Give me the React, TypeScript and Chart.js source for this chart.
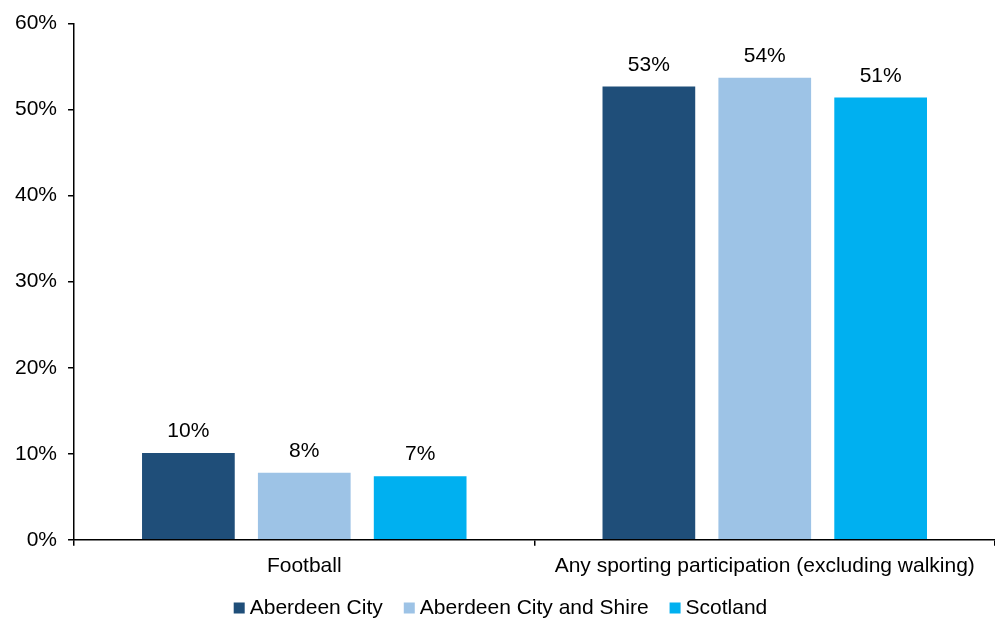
import React, { useEffect, useRef } from "react";
import { Chart, registerables } from "chart.js";

Chart.register(...registerables);

const categories = ["Football", "Any sporting participation (excluding walking)"];
const seriesNames = ["Aberdeen City", "Aberdeen City and Shire", "Scotland"];
const aberdeenCity = [10.1, 52.7];
const aberdeenShire = [7.8, 53.7];
const scotland = [7.4, 51.4];
const yTicks = [0, 10, 20, 30, 40, 50, 60];
const colors = ["#1F4E79", "#9DC3E6", "#00B0F0"];

const FONT = "'Liberation Sans', Arial, sans-serif";
const FS = 21;

const labelPlugin = {
  id: "barLabels",
  afterDatasetsDraw(chart: any) {
    const ctx = chart.ctx;
    ctx.save();
    ctx.font = `${FS}px ${FONT}`;
    ctx.fillStyle = "#000";
    ctx.textAlign = "center";
    ctx.textBaseline = "bottom";
    chart.data.datasets.forEach((ds: any, i: number) => {
      const meta = chart.getDatasetMeta(i);
      meta.data.forEach((bar: any, j: number) => {
        const v = ds.data[j];
        ctx.fillText(Math.round(v) + "%", bar.x, bar.y - 11);
      });
    });
    ctx.restore();
  },
};

const legendPlugin = {
  id: "customLegend",
  afterDraw(chart: any) {
    const ctx = chart.ctx;
    ctx.save();
    ctx.font = `${FS}px ${FONT}`;
    ctx.textBaseline = "middle";
    ctx.textAlign = "left";
    const box = 11;
    const boxGap = 5;
    const itemGap = 21;
    const items = chart.data.datasets.map((ds: any) => ({
      label: ds.label,
      color: ds.backgroundColor,
      w: ctx.measureText(ds.label).width,
    }));
    const total =
      items.reduce((s: number, it: any) => s + box + boxGap + it.w, 0) + itemGap * (items.length - 1);
    let x = (chart.width - total) / 2 + 3;
    const y = 608;
    items.forEach((it: any) => {
      ctx.fillStyle = it.color;
      ctx.fillRect(x, y - box / 2, box, box);
      x += box + boxGap;
      ctx.fillStyle = "#000";
      ctx.fillText(it.label, x, y);
      x += it.w + itemGap;
    });
    ctx.restore();
  },
};

export default function App() {
  const ref = useRef<HTMLCanvasElement>(null);
  useEffect(() => {
    const chart = new Chart(ref.current!, {
      type: "bar",
      data: {
        labels: categories,
        datasets: [aberdeenCity, aberdeenShire, scotland].map((d, i) => ({
          label: seriesNames[i],
          data: d,
          backgroundColor: colors[i],
          categoryPercentage: 0.755,
          barPercentage: 0.8,
        })),
      },
      options: {
        animation: false,
        responsive: false,
        maintainAspectRatio: false,
        layout: { padding: { left: 4, right: 0, top: 12, bottom: 33 } },
        plugins: {
          legend: { display: false },
          tooltip: { enabled: false },
        },
        scales: {
          x: {
            offset: true,
            grid: {
              offset: true,
              drawOnChartArea: false,
              drawTicks: true,
              tickLength: 6,
              color: "#000",
              lineWidth: 1.5,
            },
            border: { color: "#000", width: 1.5 },
            ticks: { font: { family: FONT, size: FS }, color: "#000", padding: 8 },
          },
          y: {
            min: 0,
            max: 60,
            afterBuildTicks: (axis: any) => {
              axis.ticks = yTicks.map((v) => ({ value: v }));
            },
            grid: {
              drawOnChartArea: false,
              tickLength: 6,
              color: "#000",
              lineWidth: 1.5,
            },
            border: { color: "#000", width: 1.5 },
            ticks: {
              font: { family: FONT, size: FS },
              color: "#000",
              padding: 11,
              callback: (v: any) => v + "%",
            },
          },
        },
      },
      plugins: [labelPlugin, legendPlugin],
    });
    return () => chart.destroy();
  }, []);
  return (
    <div style={{ position: "absolute", left: 0, top: 0, width: 995, height: 620, background: "#fff" }}>
      <canvas ref={ref} width={995} height={620} />
    </div>
  );
}
